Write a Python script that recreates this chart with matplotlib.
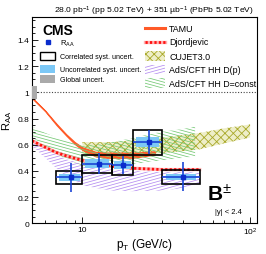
import numpy as np
import matplotlib
matplotlib.use('Agg')
import matplotlib.pyplot as plt
from matplotlib.patches import Rectangle
from matplotlib.ticker import FixedLocator, NullFormatter

plt.rcParams['font.family'] = ['Liberation Sans', 'DejaVu Sans']
plt.rcParams['mathtext.fontset'] = 'custom'
plt.rcParams['mathtext.rm'] = 'Liberation Sans'
plt.rcParams['mathtext.it'] = 'Liberation Sans:italic'
plt.rcParams['mathtext.bf'] = 'Liberation Sans:bold'
plt.rcParams['hatch.linewidth'] = 0.6

# ---- B+ RAA measurement ----
pt = np.array([8.5, 12.5, 17.5, 25.0, 40.0])
pt_lo = np.array([7.0, 10.0, 15.0, 20.0, 30.0])
pt_hi = np.array([10.0, 15.0, 20.0, 30.0, 50.0])
raa = np.array([0.35, 0.455, 0.445, 0.62, 0.355])
stat_err = np.array([0.11, 0.08, 0.07, 0.09, 0.11])
syst_corr = np.array([0.05, 0.07, 0.075, 0.095, 0.055])
syst_uncorr = np.array([0.03, 0.035, 0.03, 0.04, 0.025])
global_unc = 0.05

# ---- model predictions ----
tamu_pt = np.array([5, 6, 7, 8, 9, 10, 12, 14, 17, 20, 24, 27])
tamu_hi = np.array([0.96, 0.86, 0.76, 0.68, 0.62, 0.58, 0.545, 0.54, 0.54, 0.54, 0.545, 0.55])
tamu_lo = np.array([0.955, 0.855, 0.75, 0.67, 0.605, 0.56, 0.51, 0.50, 0.50, 0.50, 0.515, 0.525])

djor_pt = np.array([5, 6, 7, 8, 10, 12, 15, 20, 30, 40, 50])
djor_raa = np.array([0.63, 0.58, 0.54, 0.515, 0.48, 0.455, 0.435, 0.42, 0.41, 0.41, 0.41])

cujet_pt = np.array([10, 15, 20, 30, 50, 70, 100])
cujet_hi = np.array([0.62, 0.62, 0.63, 0.655, 0.69, 0.725, 0.755])
cujet_lo = np.array([0.52, 0.515, 0.52, 0.535, 0.565, 0.61, 0.655])

adsp_pt = np.array([5, 6, 7, 8, 10, 12, 15, 20, 30, 40, 50])
adsp_hi = np.array([0.65, 0.58, 0.53, 0.49, 0.45, 0.43, 0.41, 0.40, 0.39, 0.39, 0.39])
adsp_lo = np.array([0.59, 0.50, 0.42, 0.36, 0.29, 0.27, 0.25, 0.245, 0.25, 0.27, 0.30])

adsc_pt = np.array([5, 6, 7, 8, 10, 12, 15, 20, 25, 30, 40, 47])
adsc_hi = np.array([0.74, 0.69, 0.655, 0.63, 0.60, 0.60, 0.62, 0.65, 0.68, 0.70, 0.72, 0.74])
adsc_lo = np.array([0.66, 0.58, 0.53, 0.49, 0.44, 0.43, 0.43, 0.45, 0.47, 0.48, 0.50, 0.51])

c_blue = '#1a44d6'
c_lblue = '#7cc8f6'
c_tamu = '#ff5a28'
c_djor = '#ff1010'
c_cujet = '#a8a828'
c_adsp = '#b48cf0'
c_adsc = '#74c874'


def shallow_hatch(ax, clip, transform, color, slope, step=0.015):
    # thin sloped lines (ROOT-like hatch) clipped to a shape
    for c in np.arange(-1.0, 1.6, step):
        ln, = ax.plot([0, 1], [c, c + slope], transform=ax.transAxes,
                      color=color, lw=0.55)
        ln.set_clip_path(clip, transform)


fig = plt.figure(figsize=(2.66, 2.55), dpi=100)
ax = fig.add_axes([0.1203, 0.1204, 0.8459, 0.809])
ax.set_xscale('log')
ax.set_xlim(5, 110)
ax.set_ylim(0, 1.575)

# CUJET3.0
ax.fill_between(cujet_pt, cujet_lo, cujet_hi, facecolor='#eeeec8',
                edgecolor=c_cujet, hatch='xxxx', lw=0)

# AdS/CFT HH D=const
band = ax.fill_between(adsc_pt, adsc_lo, adsc_hi, facecolor='none', edgecolor='none')
shallow_hatch(ax, band.get_paths()[0], ax.transData, c_adsc, -0.3)

# AdS/CFT HH D(p)
band = ax.fill_between(adsp_pt, adsp_lo, adsp_hi, facecolor='none', edgecolor='none')
shallow_hatch(ax, band.get_paths()[0], ax.transData, c_adsp, 0.3)

# TAMU
ax.fill_between(tamu_pt, tamu_lo, tamu_hi, color=c_tamu, lw=0.8)

# Djordjevic
ax.plot(djor_pt, djor_raa, color='#ff9090', lw=2.4, alpha=0.7)
ax.plot(djor_pt, djor_raa, color=c_djor, lw=2.0, ls=(0, (0.8, 0.8)))

# reference line and global uncertainty
ax.axhline(1.0, color='#444444', ls=(0, (1, 1.5)), lw=0.8)
ax.add_patch(Rectangle((5.0, 1 - global_unc), 0.32, 2 * global_unc,
                       facecolor='#aaaaaa', edgecolor='none', zorder=4))

# uncorrelated syst (light blue), correlated syst (black boxes)
lpt_lo = np.log10(pt_lo)
lpt_hi = np.log10(pt_hi)
dl = lpt_hi - lpt_lo
for i in range(len(pt)):
    x0 = 10 ** (lpt_lo[i] + 0.1 * dl[i])
    x1 = 10 ** (lpt_hi[i] - 0.1 * dl[i])
    ax.add_patch(Rectangle((x0, raa[i] - syst_uncorr[i]), x1 - x0, 2 * syst_uncorr[i],
                           facecolor=c_lblue, edgecolor='none', zorder=5))
    ax.add_patch(Rectangle((pt_lo[i], raa[i] - syst_corr[i]), pt_hi[i] - pt_lo[i],
                           2 * syst_corr[i], fill=False, edgecolor='black',
                           lw=1.2, zorder=6))

ax.errorbar(pt, raa, yerr=stat_err, xerr=[pt - pt_lo, pt_hi - pt], fmt='s',
            color=c_blue, mfc='#0a2ccc', mec='#0a2ccc', ms=3.5, lw=1.2,
            capsize=0, zorder=7)

# axes style
ax.xaxis.set_major_locator(FixedLocator([10, 100]))
ax.set_xticklabels(['10', '$10^2$'])
ax.xaxis.set_minor_locator(FixedLocator([5, 6, 7, 8, 9, 20, 30, 40, 50, 60, 70, 80, 90]))
ax.xaxis.set_minor_formatter(NullFormatter())
ax.set_yticks([0, 0.2, 0.4, 0.6, 0.8, 1.0, 1.2, 1.4])
ax.set_yticklabels(['0', '0.2', '0.4', '0.6', '0.8', '1', '1.2', '1.4'])
ax.yaxis.set_minor_locator(FixedLocator(np.arange(0, 1.56, 0.05)))
ax.tick_params(which='both', direction='in', labelsize=6, width=0.6, pad=2)
ax.tick_params(which='major', length=4)
ax.tick_params(which='minor', length=2)
for s in ax.spines.values():
    s.set_linewidth(0.8)

ax.set_xlabel(r'p$_{\rm T}$ (GeV/c)', fontsize=8.5)
ax.xaxis.set_label_coords(0.5, -0.06)
ax.set_ylabel(r'R$_{\rm AA}$', fontsize=8)
ax.yaxis.set_label_coords(-0.078, 0.5)

ax.text(0.987, 1.03, '28.0 pb$^{-1}$ (pp 5.02 TeV) + 351 \u00b5b$^{-1}$ (PbPb 5.02 TeV)',
        transform=ax.transAxes, ha='right', va='center', fontsize=6.1)

# left legend block
ax.text(0.044, 0.937, 'CMS', transform=ax.transAxes, fontsize=10,
        fontweight='bold', va='center', ha='left')
ax.plot([0.07], [1 - (43.3 - 18) / 206.3], 's', color='#0a2ccc', ms=3,
        transform=ax.transAxes)
lab_x = (59.5 - 32) / 225
ax.text(lab_x, 1 - (43.5 - 18) / 206.3, r'R$_{\rm AA}$', transform=ax.transAxes,
        fontsize=5.5, va='center')
rows = [(57.2, 'none', 'black', 'Correlated syst. uncert.'),
        (70.0, c_lblue, 'none', 'Uncorrelated syst. uncert.'),
        (80.0, '#aaaaaa', 'none', 'Global uncert.')]
for yc, fc, ec, txt in rows:
    ya = 1 - (yc - 18) / 206.3
    ax.add_patch(Rectangle(((39.5 - 32) / 225, ya - 0.018), 15 / 225, 0.036,
                           transform=ax.transAxes, facecolor=fc, edgecolor=ec,
                           lw=1.0))
    ax.text(lab_x, ya, txt, transform=ax.transAxes, fontsize=5.1, va='center')

# right legend block
lx0 = (145 - 32) / 225
lx1 = (165 - 32) / 225
rlab = (169 - 32) / 225
def ry(yc):
    return 1 - (yc - 18) / 206.3

ax.plot([lx0, lx1], [ry(29), ry(29)], color=c_tamu, lw=2.2, transform=ax.transAxes)
ax.text(rlab, ry(29), 'TAMU', transform=ax.transAxes, fontsize=6.4, va='center')

ax.plot([lx0, lx1], [ry(42.5), ry(42.5)], color='#ff9090', lw=2.4, alpha=0.7,
        transform=ax.transAxes)
ax.plot([lx0, lx1], [ry(42.5), ry(42.5)], color=c_djor, lw=2.0, ls=(0, (0.8, 0.8)),
        transform=ax.transAxes)
ax.text(rlab, ry(42.5), 'Djordjevic', transform=ax.transAxes, fontsize=6.4, va='center')

ax.add_patch(Rectangle((lx0, ry(57) - 0.022), lx1 - lx0, 0.044, transform=ax.transAxes,
                       facecolor='#eeeec8', edgecolor=c_cujet, hatch='xxxx', lw=0))
ax.text(rlab, ry(57), 'CUJET3.0', transform=ax.transAxes, fontsize=6.4, va='center')

box = Rectangle((lx0, ry(70.5) - 0.022), lx1 - lx0, 0.044, transform=ax.transAxes,
                facecolor='none', edgecolor='none')
ax.add_patch(box)
shallow_hatch(ax, box, None, c_adsp, 0.3)
ax.text(rlab, ry(70.5), 'AdS/CFT HH D(p)', transform=ax.transAxes, fontsize=6.4, va='center')

box = Rectangle((lx0, ry(84) - 0.022), lx1 - lx0, 0.044, transform=ax.transAxes,
                facecolor='none', edgecolor='none')
ax.add_patch(box)
shallow_hatch(ax, box, None, c_adsc, -0.3)
ax.text(rlab, ry(84), 'AdS/CFT HH D=const', transform=ax.transAxes, fontsize=6.4, va='center')

# particle label
ax.text(0.778, 0.11, r'$\mathbf{B}^{\pm}$', transform=ax.transAxes, fontsize=15,
        fontweight='bold', va='baseline', ha='left')
ax.text(0.813, 0.055, '|y| < 2.4', transform=ax.transAxes, fontsize=5.5, va='center')

fig.savefig('out.png', dpi=100)
